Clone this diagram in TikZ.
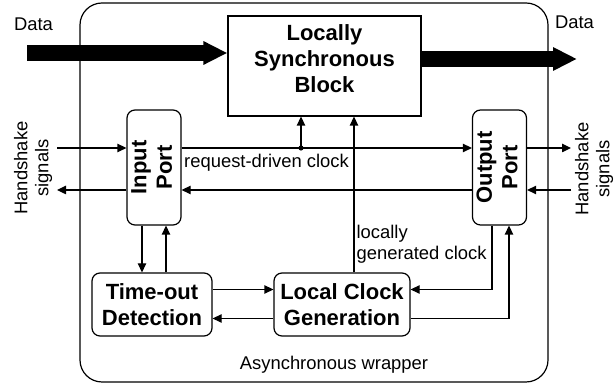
\documentclass[tikz,border=0pt]{standalone}
\usepackage{fontspec}
\setmainfont{Liberation Sans}
\usepackage{graphicx}
\usetikzlibrary{positioning}
\usetikzlibrary{arrows.meta}
\tikzset{x=0.5pt, y=-0.5pt, % one unit is one pixel of the drawing, y goes down
node distance=95pt, % Distance between the two lower blocks
block/.style={ % Sets the properties for each box
draw,
semithick,
fill=white,
align=center,
font=\fontsize{11}{12.8}\selectfont\bfseries},
rblock/.style={block, rounded corners=4pt}, % Boxes with round corners
port/.style={rblock, minimum width=27pt, minimum height=57.5pt, inner sep=0pt},
lbl/.style={font=\fontsize{9.2}{10.5}\selectfont}, % Plain labels
sig/.style={ % Thin signal lines
draw,
semithick,
-{Triangle[length=4.5pt,width=4.2pt]}},
data/.style={ % Wide data arrows
draw,
line width=8pt,
-{Triangle[length=12pt,width=11pt]}}}

\begin{document}
\begin{tikzpicture}
	\useasboundingbox (0,0) rectangle (616,383);

	\node[draw, semithick, rounded corners=11pt, minimum width=234pt, minimum height=189.5pt] (wrap) at (314,192.5) {};
	\node[lbl] (wraplbl) at (334,365) {Asynchronous wrapper};

	\node[block, minimum width=96.5pt, minimum height=50pt, inner sep=0pt] (lsb) at (324.5,66) {\parbox[c][41pt][t]{90pt}{\centering Locally\\Synchronous\\Block}};
	\node[port] (in) at (154,167.5) {\rotatebox{90}{\begin{tabular}{@{}c@{}}Input\\Port\end{tabular}}};
	\node[port, right of=in, node distance=172.75pt] (out) {\rotatebox{90}{\begin{tabular}{@{}c@{}}Output\\Port\end{tabular}}};
	\node[rblock, below of=in, node distance=68.5pt, xshift=-1pt, minimum width=60pt, minimum height=31.5pt, inner sep=0pt] (tod) {Time-out\\Detection};
	\node[rblock, right of=tod, minimum width=68pt, minimum height=31.5pt, inner sep=0pt] (lcg) {Local Clock\\Generation};

	\node[lbl] (datain) at (33.5,24) {Data};
	\node[lbl] (dataout) at (574.5,22) {Data};
	\node[lbl, rotate=90, align=center] (hsin) at (33,168) {Handshake\\signals};
	\node[lbl, rotate=90, align=center] (hsout) at (594,169) {Handshake\\signals};

	\coordinate (din) at (27,53);
	\coordinate (dout) at (577,59);
	\coordinate (hs1) at (57,148);
	\coordinate (hs2) at (57,190);
	\coordinate (hs3) at (571,148);
	\coordinate (hs4) at (571,190);
	\coordinate (tap) at (301,148);

	% data path
	\draw[data] (din) -- (din -| lsb.west);
	\draw[data] (lsb.east |- dout) -- (dout);

	% handshake signals
	\draw[sig] (hs1) -- (hs1 -| in.west);
	\draw[sig] (in.west |- hs2) -- (hs2);
	\draw[sig] (out.east |- hs3) -- (hs3);
	\draw[sig] (hs4) -- (hs4 -| out.east);

	% between the ports
	\draw[sig] (in.east |- hs1) -- node[lbl, pos=0, below right, inner sep=1pt, yshift=-2pt] (reqlbl) {request-driven clock} (out.west |- hs1);
	\draw[sig] (tap) -- (tap |- lsb.south);
	\fill (tap) circle (1.3pt);
	\draw[sig] (out.west |- hs2) -- (in.east |- hs2);

	% time-out and clock generation
	\draw[sig] ([xshift=-6pt]in.south) -- ([xshift=-6pt]in.south |- tod.north);
	\draw[sig] ([xshift=6pt]in.south |- tod.north) -- ([xshift=6pt]in.south);
	\draw[sig] ([yshift=7.5pt]tod.east) -- ([yshift=7.5pt]tod.east -| lcg.west);
	\draw[sig] ([yshift=-7pt]lcg.west) -- ([yshift=-7pt]lcg.west -| tod.east);
	\draw[sig] ([xshift=-3.75pt]out.south) |- ([yshift=7.5pt]lcg.east);
	\draw[sig] ([yshift=-7pt]lcg.east) -| ([xshift=4.75pt]out.south);
	\draw[sig] ([xshift=6pt]lcg.north) -- node[lbl, pos=0, above right, align=left, inner sep=1pt, yshift=3pt] (lgclbl) {locally\\generated clock} ([xshift=6pt]lcg.north |- lsb.south);
\end{tikzpicture}
\end{document}
